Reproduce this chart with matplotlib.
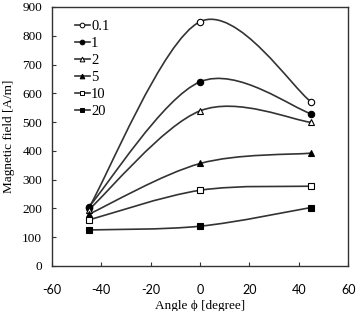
import numpy as np
import matplotlib
matplotlib.use("Agg")
import matplotlib.pyplot as plt
from matplotlib.path import Path
from matplotlib.patches import PathPatch
from matplotlib.lines import Line2D

plt.rcParams["font.family"] = ["Liberation Serif", "DejaVu Serif"]
plt.rcParams["font.size"] = 9.5
plt.rcParams["axes.unicode_minus"] = False

# Data
angles = [-45, 0, 45]
labels = ["0.1", "1", "2", "5", "10", "20"]
field_01 = [203, 849, 570]
field_1 = [206, 640, 529]
field_2 = [196, 539, 499]
field_5 = [180, 356, 392]
field_10 = [160, 263, 277]
field_20 = [125, 138, 203]
series = [field_01, field_1, field_2, field_5, field_10, field_20]

markers = ["o", "o", "^", "^", "s", "s"]
faces = ["white", "black", "white", "black", "white", "black"]
line_color = "#333333"


def smooth_path(xs, ys):
    # Excel-style smoothed line: Catmull-Rom segments as cubic Beziers
    pts = np.column_stack([xs, ys]).astype(float)
    ext = np.vstack([pts[0], pts, pts[-1]])
    verts = [pts[0]]
    codes = [Path.MOVETO]
    for i in range(1, len(ext) - 2):
        p0, p1, p2, p3 = ext[i - 1], ext[i], ext[i + 1], ext[i + 2]
        verts += [p1 + (p2 - p0) / 6, p2 - (p3 - p1) / 6, p2]
        codes += [Path.CURVE4] * 3
    return Path(verts, codes)


fig = plt.figure(figsize=(3.56, 3.11), dpi=100)
ax = fig.add_axes([0.146, 0.145, 0.832, 0.8325])

handles = []
for vals, lab, m, fc in zip(series, labels, markers, faces):
    ax.add_patch(PathPatch(smooth_path(angles, vals), fill=False,
                           edgecolor=line_color, lw=1.2, zorder=2))
    ax.plot(angles, vals, linestyle="none", marker=m, markersize=4.6,
            markerfacecolor=fc, markeredgecolor="black", markeredgewidth=0.8,
            zorder=3)
    handles.append(Line2D([], [], color=line_color, lw=1.2, marker=m,
                          markersize=3.4, markerfacecolor=fc,
                          markeredgecolor="black", markeredgewidth=0.7,
                          label=lab))

ax.set_xlim(-60, 60)
ax.set_ylim(0, 900)
ax.set_xticks(np.arange(-60, 61, 20))
ax.set_yticks(np.arange(0, 901, 100))
ax.tick_params(direction="in", length=3, width=0.8, colors="#333333",
               labelcolor="black")
ax.tick_params(axis="y", pad=7)
ax.tick_params(axis="x", pad=13)
for t in ax.get_xticklabels():
    t.set_fontfamily(["Lato", "DejaVu Sans"])
    t.set_fontsize(9)
for s in ax.spines.values():
    s.set_color("#333333")
    s.set_linewidth(1.0)

ax.set_xlabel("Angle \u03d5 [degree]", labelpad=3)
ax.set_ylabel("Magnetic field [A/m]", labelpad=5)

ax.legend(handles=handles, loc="upper left", bbox_to_anchor=(0.068, 0.962),
          frameon=False, fontsize=10.5, handlelength=1.0, handletextpad=0.1,
          labelspacing=0.26, borderpad=0.2, borderaxespad=0)

fig.savefig("out.png", dpi=100)
